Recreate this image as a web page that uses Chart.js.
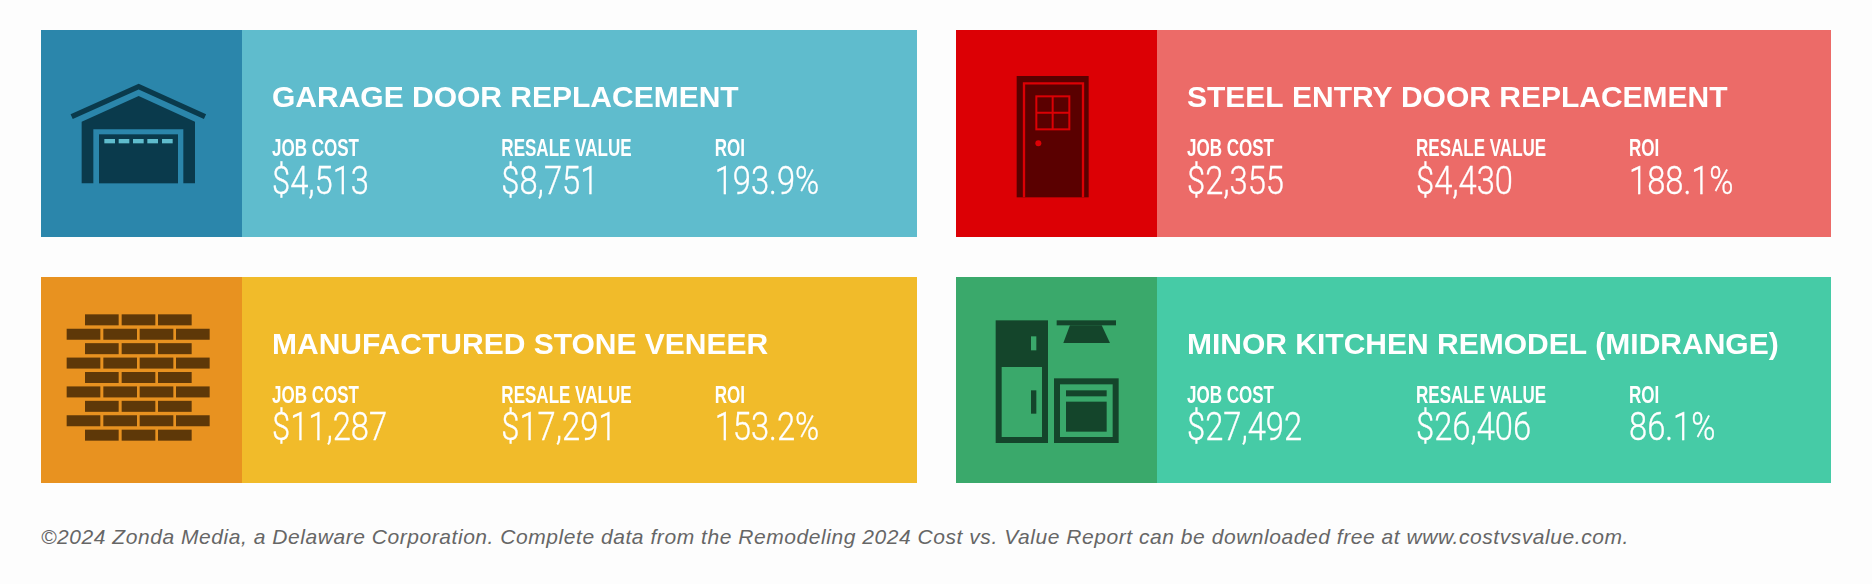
<!DOCTYPE html>
<html>
<head>
<meta charset="utf-8">
<script src="https://cdn.jsdelivr.net/npm/chart.js@4/dist/chart.umd.min.js"></script>
<style>
  html, body { margin: 0; padding: 0; background: #fdfdfd; }
  body { position: relative; width: 1872px; height: 584px; overflow: hidden; }
  canvas { position: absolute; display: block; }
  #note {
    position: absolute; left: 41px; top: 525px; margin: 0; white-space: nowrap;
    font: italic 21px "Liberation Sans", sans-serif; letter-spacing: 0.55px; color: #666;
  }
</style>
</head>
<body>
<canvas id="card0" width="876" height="207" style="left:41px;top:30px"></canvas>
<canvas id="card1" width="875" height="207" style="left:956px;top:30px"></canvas>
<canvas id="card2" width="876" height="206" style="left:41px;top:277px"></canvas>
<canvas id="card3" width="875" height="206" style="left:956px;top:277px"></canvas>
<p id="note">©2024 Zonda Media, a Delaware Corporation. Complete data from the Remodeling 2024 Cost vs. Value Report can be downloaded free at www.costvsvalue.com.</p>

<script>
const projects = ["GARAGE DOOR REPLACEMENT", "STEEL ENTRY DOOR REPLACEMENT", "MANUFACTURED STONE VENEER", "MINOR KITCHEN REMODEL (MIDRANGE)"];
const columns = ["JOB COST", "RESALE VALUE", "ROI"];
const jobCost = [4513, 2355, 11287, 27492];
const resaleValue = [8751, 4430, 17291, 26406];
const roi = [193.9, 188.1, 153.2, 86.1];

// one look per card: panel, body, icon ink
const panelColors = ["#2b86ab", "#dc0005", "#e89220", "#3aa96b"];
const bodyColors = ["#5fbccd", "#ec6b68", "#f1bb2a", "#46cba6"];
const inkColors = ["#0a3a4c", "#5a0000", "#5e3808", "#14452b"];
const columnOffsets = [0, 229, 442];
const PANEL_W = 201;
const TEXT_LEFT = 231;
const HEAD_RISE = 34;

const money = (n) => "$" + n.toLocaleString("en-US");
const percent = (n) => n.toFixed(1) + "%";

function fillPoly(ctx, pts) {
  ctx.beginPath();
  pts.forEach((p, i) => (i ? ctx.lineTo(p[0], p[1]) : ctx.moveTo(p[0], p[1])));
  ctx.closePath();
  ctx.fill();
}

// no condensed face is installed, so squeeze the text horizontally
function squeezedText(ctx, text, x, y, font, squeeze, thicken) {
  ctx.save();
  ctx.font = font;
  ctx.translate(x, y);
  ctx.scale(squeeze, 1);
  ctx.fillText(text, 0, 0);
  if (thicken) {
    ctx.strokeStyle = ctx.fillStyle;
    ctx.lineWidth = thicken;
    ctx.strokeText(text, 0, 0);
  }
  ctx.restore();
}

// icons are sketched on a 3x grid, relative to the panel corner
const icons = [
  function garage(ctx, ink, panel, body) {
    ctx.strokeStyle = ink;
    ctx.lineWidth = 16;
    ctx.beginPath();
    ctx.moveTo(92, 260);
    ctx.lineTo(293, 170);
    ctx.lineTo(492, 260);
    ctx.stroke();
    ctx.fillStyle = ink;
    fillPoly(ctx, [[122, 460], [122, 275], [293, 198], [462, 275], [462, 460], [427, 460], [427, 298], [157, 298], [157, 460]]);
    ctx.fillRect(174, 313, 237, 147);
    ctx.fillStyle = body;
    [190, 233, 276, 319, 363].forEach((x) => ctx.fillRect(x, 327, 32, 13));
  },
  function door(ctx, ink, panel) {
    ctx.fillStyle = ink;
    ctx.fillRect(182, 138, 216, 364);
    ctx.strokeStyle = panel;
    ctx.lineWidth = 7;
    ctx.beginPath();
    ctx.moveTo(204, 502);
    ctx.lineTo(204, 160);
    ctx.lineTo(381, 160);
    ctx.lineTo(381, 502);
    ctx.stroke();
    ctx.lineWidth = 6;
    ctx.strokeRect(241, 199, 99, 99);
    ctx.beginPath();
    ctx.moveTo(290, 199);
    ctx.lineTo(290, 298);
    ctx.moveTo(241, 248);
    ctx.lineTo(340, 248);
    ctx.stroke();
    ctx.fillStyle = panel;
    ctx.beginPath();
    ctx.arc(247, 340, 9, 0, Math.PI * 2);
    ctx.fill();
  },
  function bricks(ctx, ink) {
    ctx.fillStyle = ink;
    for (let row = 0; row < 9; row++) {
      const xs = row % 2 ? [77, 187, 296, 405] : [132, 242, 351];
      xs.forEach((x) => ctx.fillRect(x, 112 + row * 43.25, 101, 33));
    }
  },
  function kitchen(ctx, ink, panel) {
    ctx.fillStyle = ink;
    ctx.fillRect(119, 130, 157, 368);
    ctx.fillRect(302, 130, 178, 15);
    fillPoly(ctx, [[342, 145], [437, 145], [462, 198], [322, 198]]);
    ctx.fillRect(294, 304, 194, 194);
    ctx.fillStyle = panel;
    ctx.fillRect(137, 270, 121, 210);
    ctx.fillRect(225, 178, 16, 42);
    ctx.fillRect(312, 322, 158, 158);
    ctx.fillStyle = ink;
    ctx.fillRect(225, 340, 16, 70);
    ctx.fillRect(330, 340, 122, 18);
    ctx.fillRect(330, 374, 122, 90);
  },
];

const cardPlugin = {
  id: "card",
  beforeDraw(chart, args, opts) {
    const { ctx, width, height } = chart;
    const i = opts.index;
    ctx.save();
    ctx.fillStyle = bodyColors[i];
    ctx.fillRect(0, 0, width, height);
    ctx.fillStyle = panelColors[i];
    ctx.fillRect(0, 0, PANEL_W, height);
    ctx.scale(1 / 3, 1 / 3);
    icons[i](ctx, inkColors[i], panelColors[i], bodyColors[i]);
    ctx.restore();
  },
  afterDatasetsDraw(chart) {
    const { ctx } = chart;
    const points = chart.getDatasetMeta(0).data;
    ctx.save();
    ctx.fillStyle = "#ffffff";
    ctx.textAlign = "left";
    ctx.textBaseline = "middle";
    chart.data.datasets[0].data.forEach((d, c) => {
      squeezedText(ctx, columns[c], points[c].x, points[c].y - HEAD_RISE, 'bold 23px "Liberation Sans", sans-serif', 0.74);
      squeezedText(ctx, d.text, points[c].x, points[c].y, '300 38px Roboto, "Liberation Sans", sans-serif', 0.86, 0.35);
    });
    ctx.restore();
  },
};

projects.forEach((name, i) => {
  const texts = [money(jobCost[i]), money(resaleValue[i]), percent(roi[i])];
  new Chart(document.getElementById("card" + i), {
    type: "scatter",
    plugins: [cardPlugin],
    data: {
      datasets: [{
        data: columns.map((_, c) => ({ x: columnOffsets[c], y: 0.5, text: texts[c] })),
        pointRadius: 0,
      }],
    },
    options: {
      responsive: false,
      animation: false,
      layout: { padding: { left: TEXT_LEFT, right: 0, top: 0, bottom: 36 } },
      plugins: {
        card: { index: i },
        legend: { display: false },
        tooltip: { enabled: false },
        title: {
          display: true,
          text: name,
          align: "start",
          color: "#ffffff",
          font: { family: '"Liberation Sans", sans-serif', size: 30, weight: "bold" },
          padding: { top: 51, bottom: 50 },
        },
      },
      scales: {
        x: { type: "linear", display: false, min: 0, max: 875 - TEXT_LEFT },
        y: { display: false, min: 0, max: 1 },
      },
    },
  });
});
</script>
</body>
</html>
